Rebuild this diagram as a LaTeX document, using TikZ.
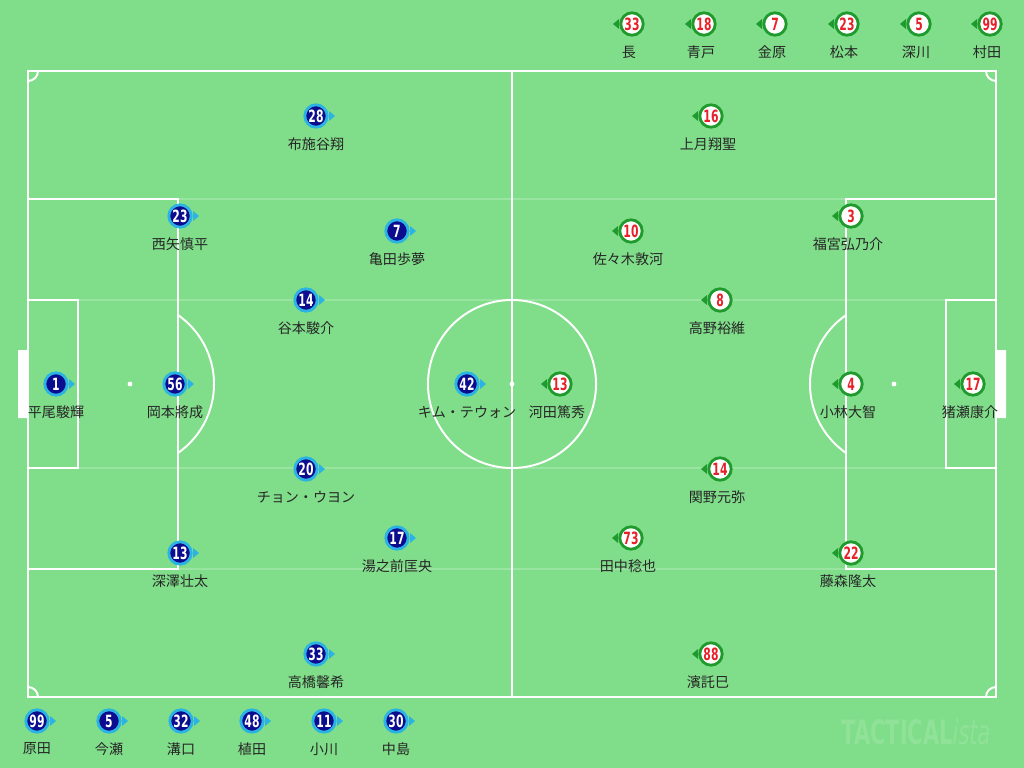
\documentclass[tikz,border=0pt]{standalone}
\usepackage{fontspec}
\newfontfamily\cjk{Noto Sans CJK JP}
\newfontfamily\numfont[FakeStretch=0.64]{DejaVu Sans}
\newfontfamily\wmfont[FakeStretch=0.62]{DejaVu Sans}
\usetikzlibrary{positioning}

\definecolor{pitch}{HTML}{80DD8A}
\definecolor{lane}{HTML}{9AE4A2}
\definecolor{navy}{HTML}{0C0C8E}
\definecolor{skyring}{HTML}{2BB3E3}
\definecolor{awayring}{HTML}{1E9B2C}
\definecolor{awaynum}{HTML}{E8202A}
\definecolor{mark}{HTML}{8FE298}

\tikzset{
  line/.style={white, line width=1.4pt},
  home/.style={circle, fill=navy, draw=skyring, line width=2pt, minimum size=0.56cm, inner sep=0,
    text=white, font=\numfont\bfseries\fontsize{12}{12}\selectfont},
  away/.style={circle, fill=white, draw=awayring, line width=2pt, minimum size=0.56cm, inner sep=0,
    text=awaynum, font=\numfont\bfseries\fontsize{12}{12}\selectfont},
  plabel/.style={inner sep=0, text=black!85, font=\cjk\fontsize{10}{12}\selectfont}
}

\begin{document}
\begin{tikzpicture}[x=0.025cm, y=-0.025cm]
\fill[pitch] (0,0) rectangle (1024,768);
\useasboundingbox (0,0) rectangle (1024,768);

% lanes
\draw[lane, line width=0.8pt] (28,199)--(996,199) (28,300)--(996,300) (28,468)--(996,468) (28,569)--(996,569);

% pitch
\draw[line] (28,71) rectangle (996,697) (512,71)--(512,697);
\draw[line] (512,384) circle (2.1cm);
\draw[line] (28,199) rectangle (178,569) (28,300) rectangle (78,468);
\draw[line] (996,199) rectangle (846,569) (996,300) rectangle (946,468);
\draw[line] ([shift={(130,384)}]-55.2:2.1cm) arc (-55.2:55.2:2.1cm);
\draw[line] ([shift={(894,384)}]124.8:2.1cm) arc (124.8:235.2:2.1cm);
\draw[line] (38,71) arc (0:-90:0.25cm) (986,71) arc (180:270:0.25cm);
\draw[line] (28,687) arc (90:0:0.25cm) (986,697) arc (180:90:0.25cm);
\fill[white] (18,350) rectangle (28,418) (996,350) rectangle (1006,418);
\foreach \x in {130,512,894} \fill[white] (\x,384) circle (0.06cm);

% home
\foreach \x/\y/\n/\s in {56/384/1/平尾駿輝,175/384/56/岡本將成,316/116/28/布施谷翔,180/216/23/西矢慎平,
  397/231/7/亀田歩夢,306/300/14/谷本駿介,467/384/42/キム・テウォン,306/469/20/チョン・ウヨン,
  397/538/17/湯之前匡央,180/553/13/深澤壮太,316/654/33/高橋馨希,
  37/721/99/原田,109/721/5/今瀬,181/721/32/溝口,252/721/48/植田,324/721/11/小川,396/721/30/中島}
{
  \fill[skyring] (\x+13,\y-5) -- (\x+19,\y) -- (\x+13,\y+5) -- cycle;
  \node[home] (h\x\y) at (\x,\y) {\n};
  \node[plabel] (hl\x\y) at (\x,\y+28) {\s};
}

% away
\foreach \x/\y/\n/\s in {711/116/16/上月翔聖,631/231/10/佐々木敦河,851/216/3/福宮弘乃介,720/300/8/高野裕維,
  560/384/13/河田篤秀,851/384/4/小林大智,973/384/17/猪瀬康介,720/469/14/関野元弥,
  631/538/73/田中稔也,851/553/22/藤森隆太,711/654/88/濱託巳,
  632/24/33/長,704/24/18/青戸,775/24/7/金原,847/24/23/松本,919/24/5/深川,990/24/99/村田}
{
  \fill[awayring] (\x-13,\y-5) -- (\x-19,\y) -- (\x-13,\y+5) -- cycle;
  \node[away] (a\x\y) at (\x,\y) {\n};
  \node[plabel] (al\x\y) at (\x-3,\y+28) {\s};
}

\node[text=mark, inner sep=0] (mark) at (916,732)
  {\wmfont\bfseries\fontsize{24}{24}\selectfont TACTICAL\mdseries\itshape ista};
\end{tikzpicture}
\end{document}
